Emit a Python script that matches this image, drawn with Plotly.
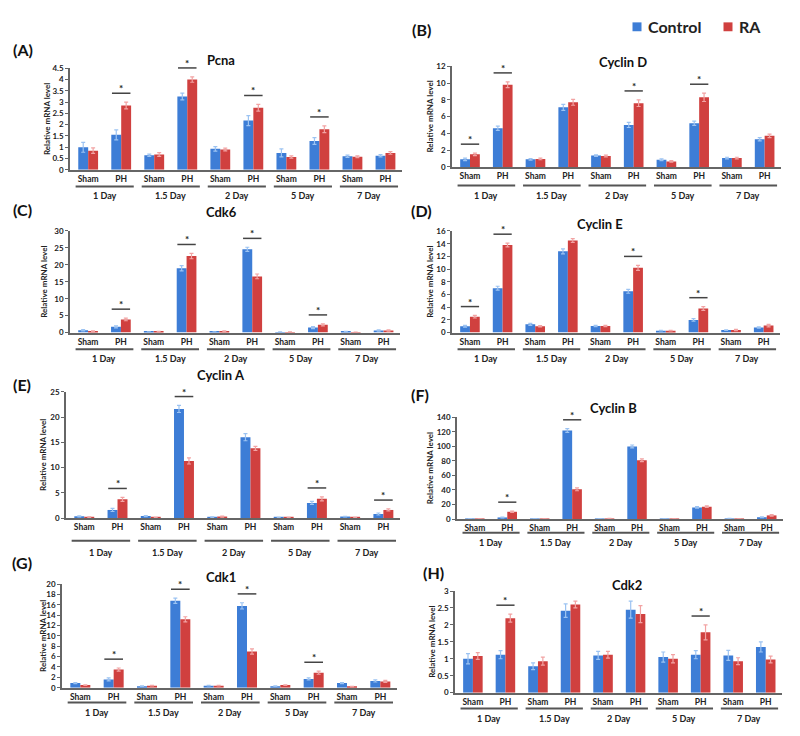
import plotly.graph_objects as go

# ---------------- data ----------------
group_labels = ["Sham", "PH", "Sham", "PH", "Sham", "PH", "Sham", "PH", "Sham", "PH"]
day_labels = ["1 Day", "1.5 Day", "2 Day", "5 Day", "7 Day"]
series_names = ["Control", "RA"]
y_axis_title = "Relative mRNA level"

pcna_control = [1.00, 1.55, 0.65, 3.25, 0.93, 2.18, 0.75, 1.28, 0.60, 0.62]
pcna_ra = [0.85, 2.85, 0.68, 4.00, 0.90, 2.75, 0.57, 1.80, 0.58, 0.75]
pcna_control_err = [0.22, 0.22, 0.05, 0.15, 0.10, 0.22, 0.18, 0.15, 0.05, 0.05]
pcna_ra_err = [0.12, 0.15, 0.08, 0.12, 0.06, 0.15, 0.05, 0.15, 0.04, 0.06]
pcna_sig = [0, 1, 0, 1, 0, 1, 0, 1, 0, 0]

cyclind_control = [0.90, 4.60, 0.90, 7.10, 1.35, 5.00, 0.85, 5.20, 1.05, 3.30]
cyclind_ra = [1.50, 9.80, 0.95, 7.70, 1.30, 7.60, 0.65, 8.30, 1.05, 3.70]
cyclind_control_err = [0.15, 0.25, 0.10, 0.35, 0.10, 0.30, 0.10, 0.25, 0.10, 0.20]
cyclind_ra_err = [0.15, 0.35, 0.10, 0.35, 0.10, 0.40, 0.10, 0.50, 0.10, 0.20]
cyclind_sig = [1, 1, 0, 0, 0, 1, 0, 1, 0, 0]

cdk6_control = [0.70, 1.70, 0.20, 19.0, 0.20, 24.6, 0.15, 1.50, 0.30, 0.60]
cdk6_ra = [0.40, 3.90, 0.30, 22.6, 0.40, 16.6, 0.15, 2.30, 0.10, 0.60]
cdk6_control_err = [0.20, 0.30, 0.05, 0.80, 0.05, 0.60, 0.05, 0.30, 0.10, 0.20]
cdk6_ra_err = [0.10, 0.40, 0.10, 0.80, 0.10, 0.70, 0.05, 0.30, 0.05, 0.20]
cdk6_sig = [0, 1, 0, 1, 0, 1, 0, 1, 0, 0]

cycline_control = [1.00, 7.00, 1.30, 12.8, 1.05, 6.50, 0.30, 2.00, 0.40, 0.80]
cycline_ra = [2.50, 13.8, 1.00, 14.5, 1.05, 10.2, 0.30, 3.80, 0.40, 1.10]
cycline_control_err = [0.15, 0.30, 0.15, 0.40, 0.10, 0.30, 0.05, 0.20, 0.05, 0.10]
cycline_ra_err = [0.20, 0.30, 0.10, 0.30, 0.10, 0.40, 0.05, 0.30, 0.10, 0.20]
cycline_sig = [1, 1, 0, 0, 0, 1, 0, 1, 0, 0]

cyclina_control = [0.35, 1.60, 0.40, 21.6, 0.20, 16.0, 0.10, 3.00, 0.30, 0.80]
cyclina_ra = [0.20, 3.70, 0.10, 11.3, 0.30, 13.8, 0.10, 3.80, 0.10, 1.60]
cyclina_control_err = [0.10, 0.30, 0.10, 0.70, 0.05, 0.70, 0.05, 0.30, 0.05, 0.20]
cyclina_ra_err = [0.05, 0.40, 0.05, 0.60, 0.10, 0.40, 0.05, 0.40, 0.05, 0.20]
cyclina_sig = [0, 1, 0, 1, 0, 0, 0, 1, 0, 1]

cyclinb_control = [0.50, 2.00, 0.30, 122.0, 0.30, 100.0, 0.20, 16.0, 0.80, 2.50]
cyclinb_ra = [0.30, 10.0, 0.20, 41.0, 0.80, 81.0, 0.20, 17.0, 0.20, 5.00]
cyclinb_control_err = [0.20, 0.50, 0.10, 2.50, 0.10, 2.00, 0.10, 1.00, 0.30, 0.50]
cyclinb_ra_err = [0.10, 1.00, 0.10, 2.00, 0.30, 2.00, 0.10, 1.00, 0.10, 1.00]
cyclinb_sig = [0, 1, 0, 1, 0, 0, 0, 0, 0, 0]

cdk1_control = [0.90, 1.60, 0.30, 16.8, 0.40, 15.8, 0.30, 1.70, 0.90, 1.30]
cdk1_ra = [0.50, 3.50, 0.40, 13.2, 0.40, 7.00, 0.50, 2.90, 0.20, 1.20]
cdk1_control_err = [0.10, 0.30, 0.05, 0.50, 0.05, 0.60, 0.05, 0.20, 0.10, 0.20]
cdk1_ra_err = [0.05, 0.30, 0.05, 0.50, 0.05, 0.50, 0.05, 0.30, 0.05, 0.20]
cdk1_sig = [0, 1, 0, 1, 0, 1, 0, 1, 0, 0]

cdk2_control = [1.00, 1.12, 0.78, 2.42, 1.10, 2.45, 1.05, 1.12, 1.10, 1.35]
cdk2_ra = [1.08, 2.20, 0.93, 2.60, 1.12, 2.32, 1.00, 1.78, 0.93, 0.98]
cdk2_control_err = [0.15, 0.12, 0.10, 0.20, 0.12, 0.25, 0.15, 0.12, 0.15, 0.15]
cdk2_ra_err = [0.10, 0.12, 0.12, 0.10, 0.10, 0.25, 0.12, 0.22, 0.10, 0.10]
cdk2_sig = [0, 1, 0, 0, 0, 0, 0, 1, 0, 0]

# ---------------- layout geometry (pixels in the page) ----------------
W, H = 800, 736
PAGE_OFFSET = 8  # default body margin of the html page
BLUE = "#3D7DD6"
RED = "#D0403F"
LBLUE = "#9CC3F2"
LRED = "#F2A3A3"
AXC = "#666666"
TXT = "#222222"
FONT = "Lato"

panels = [
    dict(letter="(A)", lpos=(23, 45), title="Pcna", tpos=(221, 56),
         c=pcna_control, r=pcna_ra, ce=pcna_control_err, re=pcna_ra_err, sig=pcna_sig,
         x0=70, x1=402, yt=64, yb=167, ymax=4.5, dtick=0.5, ul=184, day=193, ytx=47),
    dict(letter="(B)", lpos=(421, 25), title="Cyclin D", tpos=(623, 58),
         c=cyclind_control, r=cyclind_ra, ce=cyclind_control_err, re=cyclind_ra_err, sig=cyclind_sig,
         x0=452, x1=781, yt=62, yb=164, ymax=12, dtick=2, ul=183, day=193, ytx=430),
    dict(letter="(C)", lpos=(22, 207), title="Cdk6", tpos=(221, 210),
         c=cdk6_control, r=cdk6_ra, ce=cdk6_control_err, re=cdk6_ra_err, sig=cdk6_sig,
         x0=70, x1=400, yt=229, yb=332, ymax=30, dtick=5, ul=349, day=358, ytx=44),
    dict(letter="(D)", lpos=(422, 208), title="Cyclin E", tpos=(600, 222),
         c=cycline_control, r=cycline_ra, ce=cycline_control_err, re=cycline_ra_err, sig=cycline_sig,
         x0=452, x1=780, yt=229, yb=332, ymax=16, dtick=2, ul=349, day=358, ytx=430),
    dict(letter="(E)", lpos=(22, 385), title="Cyclin A", tpos=(221, 375),
         c=cyclina_control, r=cyclina_ra, ce=cyclina_control_err, re=cyclina_ra_err, sig=cyclina_sig,
         x0=66, x1=400, yt=392, yb=520, ymax=25, dtick=5, ul=543, day=555, ytx=43),
    dict(letter="(F)", lpos=(420, 395), title="Cyclin B", tpos=(613, 408),
         c=cyclinb_control, r=cyclinb_ra, ce=cyclinb_control_err, re=cyclinb_ra_err, sig=cyclinb_sig,
         x0=457, x1=783, yt=418, yb=521, ymax=140, dtick=20, ul=535, day=545, ytx=430),
    dict(letter="(G)", lpos=(22, 565), title="Cdk1", tpos=(221, 580),
         c=cdk1_control, r=cdk1_ra, ce=cdk1_control_err, re=cdk1_ra_err, sig=cdk1_sig,
         x0=62, x1=397, yt=587, yb=692, ymax=20, dtick=2, ul=707, day=717, ytx=43),
    dict(letter="(H)", lpos=(433, 575), title="Cdk2", tpos=(627, 588),
         c=cdk2_control, r=cdk2_ra, ce=cdk2_control_err, re=cdk2_ra_err, sig=cdk2_sig,
         x0=455, x1=782, yt=594, yb=697, ymax=3, dtick=0.5, ul=713, day=723, ytx=432),
]


def pxx(p):
    return (p - PAGE_OFFSET) / W


def pxy(p):
    return 1 - (p - PAGE_OFFSET) / H


fig = go.Figure()
shapes = []
annotations = []
xpos = list(range(len(group_labels)))
layout_axes = {}


def text_ann(text, x, y, size, xref="paper", yref="paper", **kw):
    d = dict(text=text, x=x, y=y, xref=xref, yref=yref, showarrow=False,
             xanchor="center", yanchor="middle",
             font=dict(family=FONT, size=size, color=kw.pop("color", TXT), weight="bold"))
    d.update(kw)
    return d


for n, p in enumerate(panels, start=1):
    sfx = "" if n == 1 else str(n)
    xref, yref = "x" + sfx, "y" + sfx
    fig.add_trace(go.Bar(
        x=xpos, y=p["c"], name=series_names[0], marker_color=BLUE, marker_line_width=0,
        error_y=dict(type="data", array=p["ce"], color=LBLUE, thickness=1.2, width=2),
        xaxis=xref, yaxis=yref, showlegend=False))
    fig.add_trace(go.Bar(
        x=xpos, y=p["r"], name=series_names[1], marker_color=RED, marker_line_width=0,
        error_y=dict(type="data", array=p["re"], color=LRED, thickness=1.2, width=2),
        xaxis=xref, yaxis=yref, showlegend=False))

    ydom = [pxy(p["yb"]), pxy(p["yt"])]
    layout_axes["xaxis" + sfx] = dict(
        domain=[pxx(p["x0"]), pxx(p["x1"])], anchor=yref, range=[-0.55, 9.5],
        tickvals=xpos, ticktext=group_labels, ticks="", showline=True,
        linecolor=AXC, linewidth=2, showgrid=False, zeroline=False,
        tickfont=dict(family=FONT, size=8.5, color=TXT, weight="bold"), fixedrange=True)
    layout_axes["yaxis" + sfx] = dict(
        domain=ydom, anchor=xref, range=[0, p["ymax"]], dtick=p["dtick"], tick0=0,
        ticks="outside", ticklen=3, tickcolor=AXC, showline=True, linecolor=AXC,
        linewidth=1.5, showgrid=False, zeroline=False,
        tickfont=dict(family=FONT, size=8, color=TXT, weight="bold"), fixedrange=True)

    def val_to_paper(v, p=p, ydom=ydom):
        return ydom[0] + v / p["ymax"] * (ydom[1] - ydom[0])

    # panel letter and title
    annotations.append(text_ann(p["letter"], pxx(p["lpos"][0]), pxy(p["lpos"][1]), 16, color="#111"))
    annotations.append(text_ann(p["title"], pxx(p["tpos"][0]), pxy(p["tpos"][1]), 13, color="#111"))
    # y axis title
    annotations.append(text_ann(y_axis_title, pxx(p["ytx"]), (ydom[0] + ydom[1]) / 2, 8,
                                textangle=-90))
    # day underlines + labels
    for k, d in enumerate(day_labels):
        shapes.append(dict(type="line", xref=xref, yref="paper",
                           x0=2 * k - 0.38, x1=2 * k + 1.38,
                           y0=pxy(p["ul"]), y1=pxy(p["ul"]),
                           line=dict(color="#555555", width=2)))
        annotations.append(text_ann(d, 2 * k + 0.5, pxy(p["day"]), 9, xref=xref))
    # significance marks
    for i, s in enumerate(p["sig"]):
        if not s:
            continue
        top = max(p["c"][i] + p["ce"][i], p["r"][i] + p["re"][i])
        yl = val_to_paper(top) + 9 / H
        shapes.append(dict(type="line", xref=xref, yref="paper", x0=i - 0.28, x1=i + 0.28,
                           y0=yl, y1=yl, line=dict(color="#444444", width=1.5)))
        annotations.append(text_ann("*", i, yl, 10, xref=xref, yanchor="bottom", yshift=-3))

# legend (drawn manually)
legend_items = [(BLUE, series_names[0], 637), (RED, series_names[1], 728)]
for col, name, cx in legend_items:
    shapes.append(dict(type="rect", xref="paper", yref="paper",
                       x0=pxx(cx - 4.5), x1=pxx(cx + 4.5), y0=pxy(26.5), y1=pxy(17.5),
                       fillcolor=col, line=dict(width=0)))
    annotations.append(text_ann(name, pxx(cx + 9), pxy(22), 16, xanchor="left"))

fig.update_layout(
    width=W, height=H, margin=dict(l=0, r=0, t=0, b=0),
    paper_bgcolor="white", plot_bgcolor="white",
    barmode="group", bargap=0.4, bargroupgap=0.0,
    showlegend=False, shapes=shapes, annotations=annotations,
    **layout_axes)

fig.write_html("out.html")
